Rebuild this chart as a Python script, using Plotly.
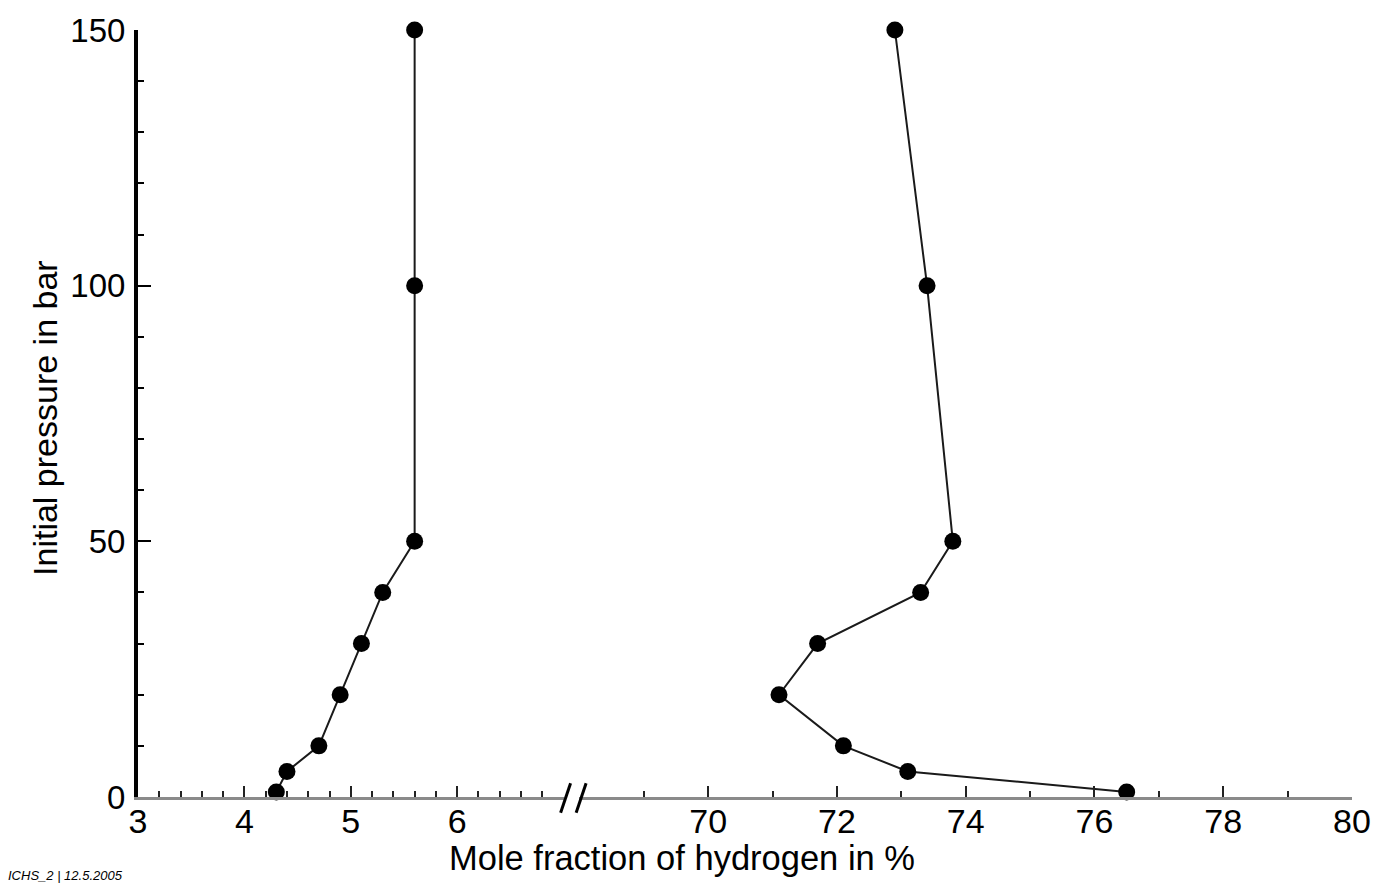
import plotly.graph_objects as go

# Data: initial pressure (bar) vs mole fraction of hydrogen (%)
pressure = [150, 100, 50, 40, 30, 20, 10, 5, 1]
lower_limit = [5.6, 5.6, 5.6, 5.3, 5.1, 4.9, 4.7, 4.4, 4.3]
upper_limit = [72.9, 73.4, 73.8, 73.3, 71.7, 71.1, 72.1, 73.1, 76.5]

left_ticks = [3, 4, 5, 6]
right_ticks = [70, 72, 74, 76, 78, 80]
y_ticks = [0, 50, 100, 150]

# target plot area in page pixels
PL, PR, PT, PB = 138, 1358, 29, 797
W, H = 1383, 885
ML, MT = PL, PT
MR = W - PR
MB = H - PB
PW = PR - PL
PH = PB - PT

def px(xp):
    return (xp - PL) / PW

def py(yp):
    return (PB - yp) / PH

FONT = "Liberation Sans, Arial, sans-serif"

fig = go.Figure()
marker = dict(size=17, color="black")
line = dict(color="#1a1a1a", width=2)
fig.add_trace(go.Scatter(x=lower_limit, y=pressure, mode="lines+markers",
                         marker=marker, line=line, xaxis="x", yaxis="y",
                         showlegend=False, cliponaxis=False))
fig.add_trace(go.Scatter(x=upper_limit, y=pressure, mode="lines+markers",
                         marker=marker, line=line, xaxis="x2", yaxis="y",
                         showlegend=False, cliponaxis=False))

xcommon = dict(
    showline=True, linecolor="#8a8a8a", linewidth=3,
    ticks="inside", ticklen=11, tickwidth=1.5, tickcolor="#222222",
    showgrid=False, zeroline=False, ticklabelstandoff=-8,
    tickfont=dict(family=FONT, size=34, color="black"),
    anchor="y",
)

fig.update_layout(
    width=W, height=H,
    margin=dict(l=ML, r=MR, t=MT, b=MB),
    paper_bgcolor="white", plot_bgcolor="white",
    xaxis=dict(domain=[0, px(565.7)], range=[3, 7],
               tickvals=left_ticks, ticktext=[str(t) for t in left_ticks],
               minor=dict(dtick=0.2, tick0=3, ticks="inside", ticklen=6,
                          tickwidth=1.5, tickcolor="#222222", showgrid=False),
               **xcommon),
    xaxis2=dict(domain=[px(581.6), 1], range=[68, 80],
                tickvals=right_ticks, ticktext=[str(t) for t in right_ticks],
                minor=dict(dtick=1, tick0=68, ticks="inside", ticklen=6,
                           tickwidth=1.5, tickcolor="#222222", showgrid=False),
                **xcommon),
    yaxis=dict(domain=[0, 1], range=[0, 150],
               tickvals=y_ticks, ticktext=[str(t) for t in y_ticks],
               showline=True, linecolor="black", linewidth=4,
               ticks="inside", ticklen=13, tickwidth=1.5, tickcolor="black",
               minor=dict(dtick=10, tick0=0, ticks="inside", ticklen=6,
                          tickwidth=1.5, tickcolor="black", showgrid=False),
               showgrid=False, zeroline=False, ticklabelstandoff=2,
               tickfont=dict(family=FONT, size=33, color="black")),
)

# Axis break marks
for x0, x1 in [(562.7, 572.7), (578.3, 588.3)]:
    fig.add_shape(type="line", xref="paper", yref="paper",
                  x0=px(x0), y0=py(812.7), x1=px(x1), y1=py(783.3),
                  line=dict(color="black", width=3))

fig.add_annotation(text="Mole fraction of hydrogen in %", xref="paper", yref="paper",
                   x=px(684.5), y=py(858), xanchor="center", yanchor="middle",
                   showarrow=False, font=dict(family=FONT, size=34.5, color="black"))
fig.add_annotation(text="Initial pressure in bar", xref="paper", yref="paper",
                   x=px(45), y=py(417), xanchor="center", yanchor="middle",
                   textangle=-90, showarrow=False,
                   font=dict(family=FONT, size=34, color="black"))
fig.add_annotation(text="<i>ICHS_2 | 12.5.2005</i>", xref="paper", yref="paper",
                   x=px(5), y=py(876), xanchor="left", yanchor="middle",
                   showarrow=False, font=dict(family=FONT, size=13, color="black"))

fig.write_html("out.html", config={"displayModeBar": False},
               post_script="document.body.style.margin='0';document.body.style.overflow='hidden';")
